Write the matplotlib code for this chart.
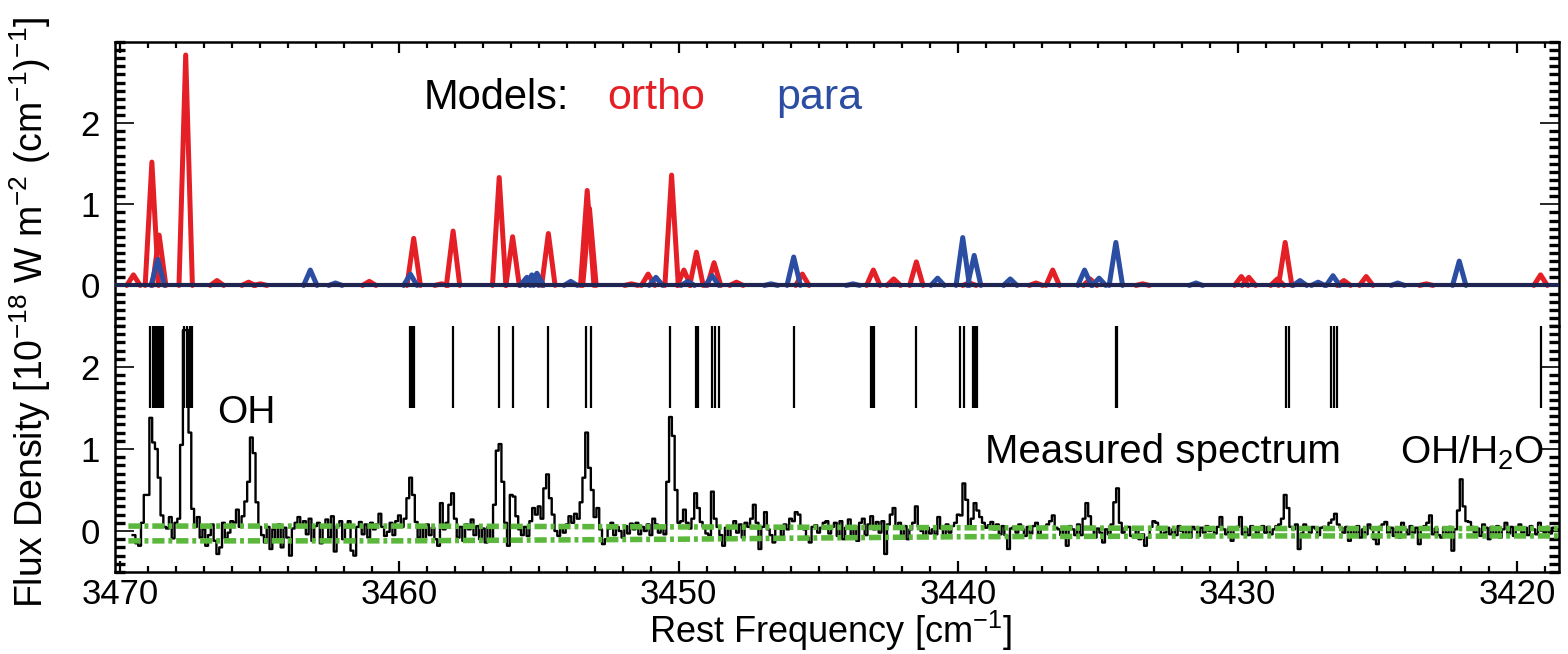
import numpy as np
import matplotlib
matplotlib.use("Agg")
import matplotlib.pyplot as plt
from matplotlib.ticker import MultipleLocator

nan = np.nan

# === DATA ===
# model line peaks, ortho (red) and para (blue): rest frequency [cm-1], flux density
ortho_freq = [3469.52, 3468.86, 3468.60, 3467.65, 3466.53, 3465.40, 3464.98, 3461.08,
              3459.49, 3458.50, 3458.08, 3456.43, 3455.95, 3454.67, 3453.28, 3453.20,
              3451.70, 3451.10, 3450.26, 3449.82, 3449.37, 3448.74, 3447.94, 3445.58,
              3443.04, 3442.31, 3441.50, 3439.60, 3437.22, 3436.62, 3435.28, 3433.40,
              3429.87, 3429.60, 3428.58, 3428.30, 3426.20, 3425.40, 3423.25, 3419.16]
ortho_flux = [0.13, 1.52, 0.62, 2.84, 0.06, 0.04, 0.02, 0.05,
              0.58, 0.02, 0.67, 1.33, 0.60, 0.64, 1.17, 0.95,
              0.02, 0.14, 1.36, 0.19, 0.41, 0.28, 0.04, 0.14,
              0.19, 0.08, 0.29, 0.03, 0.03, 0.19, 0.08, 0.02,
              0.11, 0.10, 0.08, 0.53, 0.06, 0.11, 0.02, 0.13]

para_freq = [3468.65, 3463.19, 3462.29, 3459.61, 3455.44, 3455.26, 3455.08, 3453.87,
             3450.82, 3449.68, 3448.81, 3446.70, 3445.89, 3443.77, 3440.74, 3439.84,
             3439.43, 3438.14, 3435.48, 3434.96, 3434.36, 3431.49, 3427.77, 3427.12,
             3426.59, 3424.27, 3422.07]
para_flux = [0.32, 0.19, 0.03, 0.14, 0.10, 0.13, 0.15, 0.05,
             0.10, 0.05, 0.12, 0.02, 0.35, 0.02, 0.09, 0.59,
             0.37, 0.08, 0.19, 0.09, 0.53, 0.03, 0.06, 0.04,
             0.12, 0.03, 0.30]

# line positions marked with vertical bars
mark_freq = [3468.92, 3468.83, 3468.75, 3468.67, 3468.62, 3468.56, 3468.50, 3468.46,
             3467.70, 3467.61, 3467.49, 3467.43,
             3459.62, 3459.55, 3459.48, 3458.10, 3456.45, 3455.95, 3454.69,
             3453.32, 3453.15, 3450.30, 3449.40, 3449.33,
             3448.83, 3448.71, 3448.57, 3445.89, 3443.12, 3443.05, 3443.00,
             3441.53, 3439.94, 3439.81, 3439.48, 3439.40, 3439.32,
             3434.36, 3434.32, 3428.26, 3428.17, 3426.67, 3426.56, 3426.45, 3419.16]

# measured spectrum, 0.1 cm-1 bins starting at 3469.9 (one row per cm-1)
MEAS_START = 3469.9
MEAS_STEP = 0.1
meas_flux = [
    nan, nan, nan, nan, -0.05, -0.15, -0.18, 0.10, 0.44, 0.44,       # 3469
    1.38, 1.08, 1.00, 0.65, 0.19, 0.05, 0.03, 0.17, -0.09, 0.10,     # 3468
    0.15, 1.05, 2.45, 2.45, 1.20, 0.27, 0.05, 0.17, -0.08, 0.02,     # 3467
    -0.18, -0.05, 0.08, -0.12, -0.28, -0.20, 0.10, -0.09, -0.02, 0.12,  # 3466
    0.10, 0.26, 0.05, 0.18, 0.36, 0.60, 1.14, 0.95, 0.35, 0.05,      # 3465
    -0.05, -0.14, 0.05, -0.22, 0.02, -0.10, 0.08, -0.20, 0.04, -0.08,  # 3464
    -0.30, 0.03, 0.10, 0.17, 0.05, 0.12, -0.04, 0.15, -0.12, 0.06,   # 3463
    0.10, -0.15, 0.05, 0.14, -0.08, 0.18, -0.25, 0.06, 0.12, -0.10,  # 3462
    0.04, 0.12, -0.24, -0.30, 0.05, 0.11, -0.04, 0.08, -0.08, 0.10,  # 3461
    0.02, 0.08, 0.21, 0.05, -0.06, -0.01, 0.10, -0.05, 0.12, 0.19,   # 3460
    0.05, 0.15, 0.40, 0.65, 0.44, 0.11, -0.08, 0.05, -0.12, 0.08,    # 3459
    -0.05, 0.04, -0.10, -0.18, 0.34, 0.02, 0.10, 0.32, 0.46, 0.15,   # 3458
    -0.08, 0.05, -0.12, 0.08, 0.02, 0.14, -0.05, 0.06, -0.10, 0.03,  # 3457
    -0.14, 0.05, -0.12, 0.32, 0.98, 1.06, 0.60, 0.10, -0.18, 0.44,   # 3456
    0.42, 0.18, 0.02, -0.05, 0.05, -0.06, 0.12, 0.28, 0.20, 0.30,    # 3455
    0.15, 0.52, 0.69, 0.40, 0.20, 0.00, -0.06, 0.05, -0.02, 0.08,    # 3454
    0.18, 0.10, 0.21, 0.15, 0.35, 0.65, 1.20, 0.77, 0.50, 0.17,      # 3453
    0.28, 0.02, -0.16, -0.10, 0.03, 0.10, -0.05, 0.05, 0.00, -0.08,  # 3452
    0.06, -0.03, 0.09, 0.02, 0.10, -0.04, 0.05, 0.00, 0.08, -0.05,   # 3451
    0.15, 0.08, -0.02, 0.05, -0.04, 0.60, 1.39, 1.16, 0.50, 0.10,    # 3450
    0.12, 0.26, 0.10, 0.03, 0.15, 0.46, 0.28, 0.11, 0.05, -0.03,     # 3449
    -0.05, 0.48, 0.15, 0.05, -0.05, -0.18, 0.04, -0.08, 0.06, 0.12,  # 3448
    -0.02, 0.08, -0.08, 0.10, 0.05, 0.15, 0.32, 0.10, -0.22, 0.05,   # 3447
    0.23, 0.02, -0.05, -0.14, 0.04, 0.05, -0.06, 0.08, 0.02, 0.15,   # 3446
    0.12, 0.23, 0.20, 0.06, 0.02, -0.08, -0.14, 0.05, 0.07, -0.02,   # 3445
    0.04, 0.10, 0.12, -0.03, 0.05, 0.10, -0.06, 0.12, -0.10, 0.04,   # 3444
    0.14, -0.08, 0.06, -0.12, 0.10, 0.15, -0.05, 0.08, 0.18, 0.02,   # 3443
    0.11, -0.02, 0.12, -0.28, 0.08, 0.20, 0.28, 0.05, 0.10, -0.05,   # 3442
    0.06, -0.10, 0.02, 0.10, 0.30, 0.05, 0.00, -0.06, 0.04, -0.03,   # 3441
    0.02, -0.04, 0.17, 0.03, -0.06, 0.08, -0.02, 0.06, 0.10, 0.20,   # 3440
    0.19, 0.58, 0.38, 0.05, 0.15, 0.34, 0.25, 0.17, 0.10, 0.04,      # 3439
    0.07, 0.11, 0.02, 0.08, -0.04, 0.06, -0.05, -0.22, 0.03, 0.05,   # 3438
    -0.02, 0.08, 0.02, -0.06, 0.05, -0.03, 0.06, 0.10, -0.04, 0.03,  # 3437
    0.05, 0.08, 0.12, 0.19, 0.04, 0.02, -0.05, 0.05, -0.18, 0.06,    # 3436
    0.02, -0.05, 0.08, -0.05, 0.15, 0.34, 0.18, 0.05, -0.08, 0.03,   # 3435
    -0.02, -0.14, 0.02, -0.04, 0.08, 0.35, 0.52, 0.10, -0.02, 0.04,  # 3434
    0.05, -0.06, -0.08, 0.02, -0.10, -0.04, -0.18, -0.08, 0.05, 0.12,  # 3433
    0.10, 0.02, -0.06, -0.02, 0.04, -0.04, 0.02, -0.05, 0.06, 0.00,  # 3432
    -0.05, 0.03, -0.08, 0.05, 0.02, -0.06, 0.04, -0.02, 0.06, 0.00,  # 3431
    0.04, -0.03, 0.05, 0.17, 0.02, -0.04, 0.03, -0.12, 0.02, 0.05,   # 3430
    0.17, -0.04, 0.03, -0.05, 0.06, 0.02, -0.03, 0.04, 0.06, -0.02,  # 3429
    0.05, -0.04, 0.02, 0.06, 0.08, 0.15, 0.44, 0.28, 0.05, 0.02,     # 3428
    0.08, -0.22, -0.03, 0.08, 0.04, -0.02, 0.05, 0.03, -0.05, 0.04,  # 3427
    0.05, 0.02, 0.10, 0.14, 0.21, 0.08, 0.04, -0.02, 0.05, -0.12,    # 3426
    0.04, -0.05, 0.06, -0.08, 0.02, -0.04, 0.08, 0.03, -0.10, -0.16,  # 3425
    0.05, 0.08, 0.11, -0.02, 0.04, -0.06, 0.03, -0.08, 0.10, 0.02,   # 3424
    -0.04, 0.06, -0.02, 0.04, -0.16, 0.02, 0.06, 0.10, 0.19, -0.04,  # 3423
    0.03, -0.05, -0.08, 0.04, -0.03, 0.05, -0.24, 0.02, 0.25, 0.63,  # 3422
    0.30, 0.12, 0.11, 0.05, -0.02, 0.03, -0.06, 0.08, 0.04, -0.10,   # 3421
    0.05, -0.04, 0.06, -0.08, 0.02, 0.10, -0.03, 0.05, -0.06, 0.03,  # 3420
    0.08, -0.02, 0.04, -0.05, 0.06, 0.02, -0.04, 0.10, 0.03, -0.02,  # 3419
    0.05, -0.03, 0.04, 0.00, 0.02, -0.04, 0.03, 0.01, -0.02, 0.02,   # 3418
]

# noise envelope (green dash-dot)
noise_freq = [3469.7, 3460.0, 3450.0, 3440.0, 3430.0, 3418.5]
noise_upper = [0.06, 0.06, 0.05, 0.04, 0.03, 0.03]
noise_lower = [-0.12, -0.12, -0.10, -0.07, -0.06, -0.06]

# === STYLE ===
RED = "#e41f26"
BLUE = "#2b4ea3"
NAVY = "#1f2550"
GREEN = "#5cb83c"
PEAK_HW = 0.24         # half base width of drawn model peaks [cm-1]
W, H = 1568, 654

plt.rcParams["font.family"] = ["Liberation Sans", "DejaVu Sans"]
plt.rcParams["mathtext.fontset"] = "custom"
plt.rcParams["mathtext.rm"] = "Liberation Sans"
plt.rcParams["mathtext.it"] = "Liberation Sans:italic"
plt.rcParams["mathtext.default"] = "regular"

fig = plt.figure(figsize=(W / 100, H / 100), dpi=100)
left, right = 115 / W, 1559 / W
y_top, y_mid, y_bot = 1 - 42 / H, 1 - 326 / H, 1 - 572 / H
ax_top = fig.add_axes([left, y_mid, right - left, y_top - y_mid])
ax_bot = fig.add_axes([left, y_bot, right - left, y_mid - y_bot], sharex=ax_top)

# --- models ---
for c, h in zip(ortho_freq, ortho_flux):
    ax_top.plot([c + PEAK_HW, c, c - PEAK_HW], [0, h, 0], color=RED, lw=3.6,
                solid_joinstyle="round", solid_capstyle="round", zorder=2)
for c, h in zip(para_freq, para_flux):
    ax_top.plot([c + PEAK_HW, c, c - PEAK_HW], [0, h, 0], color=BLUE, lw=3.6,
                solid_joinstyle="round", solid_capstyle="round", zorder=3)
ax_top.axhline(0, color=NAVY, lw=3, zorder=4)

ax_top.text(3459.14, 2.17, "Models:", color="black", fontsize=30, va="baseline")
ax_top.text(3452.55, 2.17, "ortho", color=RED, fontsize=31, va="baseline")
ax_top.text(3446.52, 2.17, "para", color=BLUE, fontsize=31, va="baseline")

# --- measured ---
meas_freq = MEAS_START - MEAS_STEP * np.arange(len(meas_flux))
ax_bot.step(meas_freq, meas_flux, where="mid", color="black", lw=1.7, zorder=2)
ax_bot.vlines(mark_freq, 1.5, 2.5, color="black", lw=1.6, zorder=2)
ax_bot.plot(noise_freq, noise_upper, color=GREEN, lw=4, dashes=[2.2, 0.7, 0.7, 0.7], zorder=3)
ax_bot.plot(noise_freq, noise_lower, color=GREEN, lw=4, dashes=[2.2, 0.7, 0.7, 0.7], zorder=3)

ax_bot.text(3465.48, 1.32, "OH", fontsize=28, ha="center", va="baseline")
ax_bot.text(3432.69, 0.83, "Measured spectrum", fontsize=29, ha="center", va="baseline")
ax_bot.text(3421.6, 0.82, "OH/H$_2$O", fontsize=28, ha="center", va="baseline")

# --- axes ---
ax_top.set_xlim(3470.18, 3418.5)
ax_top.set_ylim(-0.5, 3.0)
ax_bot.set_ylim(-0.5, 2.5)

for ax in (ax_top, ax_bot):
    ax.xaxis.set_major_locator(MultipleLocator(10))
    ax.xaxis.set_minor_locator(MultipleLocator(1))
    ax.set_yticks([0, 1, 2])
    ax.yaxis.set_minor_locator(MultipleLocator(0.1))
    ax.tick_params(axis="y", which="both", direction="in", left=True, right=True,
                   labelsize=25, pad=11)
    ax.tick_params(axis="y", which="major", length=14, width=1.2)
    ax.tick_params(axis="y", which="minor", length=7, width=2.4)
    ax.tick_params(axis="x", which="both", direction="in", labelsize=25, pad=4)
    ax.tick_params(axis="x", which="major", length=8, width=1.6)
    ax.tick_params(axis="x", which="minor", length=4.5, width=1.6)
    for s in ax.spines.values():
        s.set_linewidth(1.8)

ax_top.tick_params(axis="x", which="both", bottom=False, top=True, labelbottom=False)
ax_bot.tick_params(axis="x", which="both", bottom=True, top=False)
ax_top.spines["bottom"].set_visible(False)
ax_bot.spines["top"].set_visible(False)

fig.text(30 / W, 1 - 312 / H,
         "Flux Density [10$^{-18}$ W m$^{-2}$ (cm$^{-1}$)$^{-1}$]",
         rotation=90, ha="center", va="center", fontsize=27)
fig.text(830 / W, 1 - 631 / H, "Rest Frequency [cm$^{-1}$]",
         ha="center", va="center", fontsize=26)

fig.savefig("out.png", dpi=100)
